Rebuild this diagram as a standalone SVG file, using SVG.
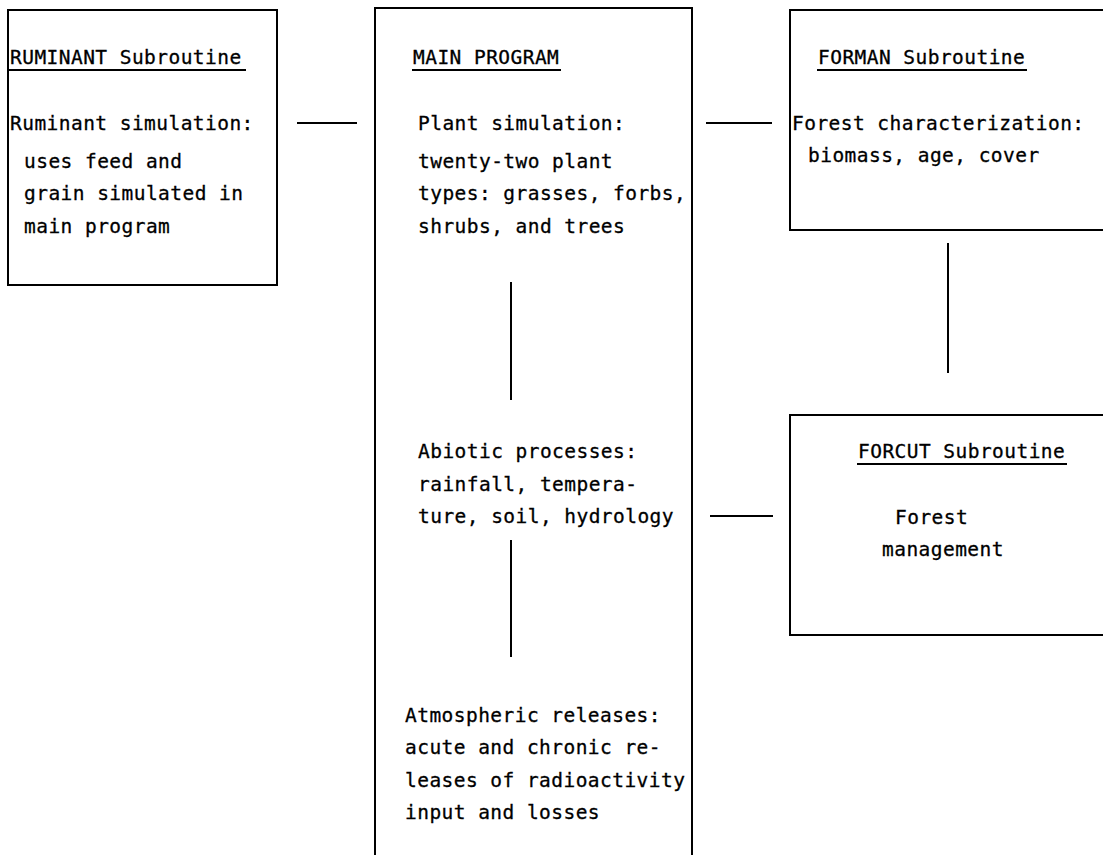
<svg xmlns="http://www.w3.org/2000/svg" width="1103" height="855" viewBox="0 0 1103 855">
<style>
.box{fill:none;stroke:#000;stroke-width:2}
.ln{stroke:#000;stroke-width:2;fill:none}
text{font-family:"DejaVu Sans Mono","Liberation Mono",monospace;font-size:19.5px;letter-spacing:0.45px;fill:#000;stroke:#000;stroke-width:0.3}
</style>
<rect width="1103" height="855" fill="#fff"/>
<g id="ruminant">
<rect class="box" x="8" y="10" width="269" height="275"/>
<text x="10" y="64">RUMINANT Subroutine</text>
<line class="ln" x1="9" y1="70" x2="246" y2="70"/>
<text x="10" y="130">Ruminant simulation:</text>
<text x="24" y="168">uses feed and</text>
<text x="24" y="200">grain simulated in</text>
<text x="24" y="233">main program</text>
</g>
<g id="main">
<path class="ln" d="M375,855 V8 H692 V855"/>
<text x="413" y="64">MAIN PROGRAM</text>
<line class="ln" x1="412" y1="70" x2="561" y2="70"/>
<text x="418" y="130">Plant simulation:</text>
<text x="418" y="168">twenty-two plant</text>
<text x="418" y="200">types: grasses, forbs,</text>
<text x="418" y="233">shrubs, and trees</text>
<text x="418" y="458">Abiotic processes:</text>
<text x="418" y="491">rainfall, tempera-</text>
<text x="418" y="523">ture, soil, hydrology</text>
<text x="405" y="722">Atmospheric releases:</text>
<text x="405" y="754">acute and chronic re-</text>
<text x="405" y="787">leases of radioactivity</text>
<text x="405" y="819">input and losses</text>
</g>
<g id="forman">
<path class="ln" d="M1103,10 H790 V230 H1103"/>
<text x="818" y="64">FORMAN Subroutine</text>
<line class="ln" x1="817" y1="70" x2="1027" y2="70"/>
<text x="792" y="130">Forest characterization:</text>
<text x="808" y="162">biomass, age, cover</text>
</g>
<g id="forcut">
<path class="ln" d="M1103,415 H790 V635 H1103"/>
<text x="858" y="458">FORCUT Subroutine</text>
<line class="ln" x1="857" y1="464" x2="1067" y2="464"/>
<text x="895" y="524">Forest</text>
<text x="882" y="556">management</text>
</g>
<g id="connectors">
<line class="ln" x1="297" y1="123" x2="357" y2="123"/>
<line class="ln" x1="706" y1="123" x2="772" y2="123"/>
<line class="ln" x1="710" y1="516" x2="773" y2="516"/>
<line class="ln" x1="948" y1="243" x2="948" y2="373"/>
<line class="ln" x1="511" y1="282" x2="511" y2="400"/>
<line class="ln" x1="511" y1="540" x2="511" y2="657"/>
</g>
</svg>
